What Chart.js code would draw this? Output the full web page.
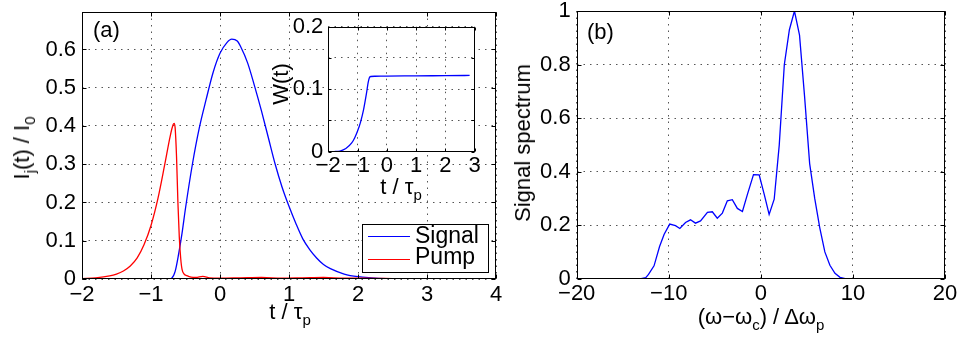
<!DOCTYPE html>
<html>
<head>
<meta charset="utf-8">
<title>Signal and pump pulses</title>
<script src="https://cdn.jsdelivr.net/npm/chart.js@4.4.0/dist/chart.umd.min.js"></script>
<style>
  html, body { margin: 0; padding: 0; background: #fff; }
  #fig {
    position: relative; width: 959px; height: 341px; overflow: hidden; background: #fff;
    font-family: 'Liberation Sans', Arial, Helvetica, sans-serif; color: #000;
  }
  #fig canvas { position: absolute; }
  .lbl { position: absolute; font-size: 22px; line-height: 22px; white-space: nowrap; }
  .lbl sub { font-size: 15px; line-height: 0; position: relative; top: 6px; vertical-align: baseline; }
  .rot { transform: translate(-50%, -50%) rotate(-90deg); }
  .hc { transform: translateX(-50%); }
  #legend {
    position: absolute; left: 362px; top: 224px; width: 125px; height: 47px;
    border: 1px solid #000; background: #fff;
  }
  #legend .key { position: absolute; left: 5px; width: 42px; height: 0; }
  #legend .txt { position: absolute; left: 52px; font-size: 23px; line-height: 23px; }
</style>
</head>
<body>
<div id="fig">
  <canvas id="chart-a" width="512" height="341" style="left:0;top:0"></canvas>
  <canvas id="chart-w" width="220" height="180" style="left:270px;top:6px"></canvas>
  <canvas id="chart-b" width="459" height="341" style="left:500px;top:0"></canvas>

  <div class="lbl" style="left:93px;top:19px">(a)</div>
  <div class="lbl" style="left:587px;top:21px">(b)</div>

  <div class="lbl rot" style="left:22px;top:148px">I<sub>j</sub>(t) / I<sub>0</sub></div>
  <div class="lbl hc" style="left:290px;top:301px">t / &tau;<sub>p</sub></div>

  <div class="lbl rot" style="left:281px;top:84px">W(t)</div>
  <div class="lbl hc" style="left:401px;top:176px">t / &tau;<sub>p</sub></div>

  <div class="lbl rot" style="left:523px;top:143px">Signal spectrum</div>
  <div class="lbl hc" style="left:761px;top:306px">(&omega;&minus;&omega;<sub>c</sub>) / &Delta;&omega;<sub>p</sub></div>

  <div id="legend">
    <div class="key" style="top:11px;border-top:1.4px solid #0000ff"></div>
    <div class="txt" style="top:-1px">Signal</div>
    <div class="key" style="top:34px;border-top:1.4px solid #ff0000"></div>
    <div class="txt" style="top:20px">Pump</div>
  </div>
</div>

<script>
// ============================================================================
// Data
// ============================================================================

// (a) intensities vs t / tau_p
const signalT = [-2, -0.74, -0.7, -0.65, -0.6, -0.55, -0.5, -0.4, -0.3, -0.2, -0.1, 0, 0.1, 0.17, 0.25,
  0.3, 0.4, 0.5, 0.6, 0.7, 0.8, 0.9, 1.0, 1.1, 1.2, 1.3, 1.4, 1.5, 1.6, 1.8, 2.0, 2.2, 2.4, 2.6, 2.83];
const signalI = [0, 0, 0.002, 0.02, 0.065, 0.12, 0.185, 0.3, 0.395, 0.47, 0.54, 0.59, 0.618, 0.627, 0.622,
  0.607, 0.565, 0.505, 0.44, 0.37, 0.3, 0.24, 0.19, 0.145, 0.105, 0.077, 0.055, 0.038, 0.027, 0.013, 0.006,
  0.003, 0.001, 0, 0];

const pumpT = [-2, -1.8, -1.6, -1.5, -1.4, -1.3, -1.2, -1.1, -1.0, -0.9, -0.8, -0.72, -0.68, -0.665,
  -0.65, -0.63, -0.61, -0.59, -0.57, -0.55, -0.52, -0.48, -0.42, -0.35, -0.25, -0.15, 0, 0.3, 0.6, 0.9,
  1.2, 1.5, 1.8, 2.1, 2.5, 2.83];
const pumpI = [0.001, 0.003, 0.008, 0.013, 0.021, 0.034, 0.055, 0.09, 0.14, 0.21, 0.3, 0.375, 0.403, 0.407,
  0.395, 0.32, 0.2, 0.11, 0.055, 0.025, 0.013, 0.009, 0.005, 0.004, 0.007, 0.003, 0.002, 0.003, 0.004, 0.002,
  0.003, 0.004, 0.002, 0.002, 0.001, 0];

// inset: W(t)
const wT = [-2, -1.8, -1.6, -1.4, -1.2, -1.1, -1.0, -0.9, -0.8, -0.7, -0.64, -0.6, -0.55, -0.4, 0, 1, 2, 2.83];
const wVal = [0, 0.0002, 0.001, 0.005, 0.014, 0.022, 0.033, 0.047, 0.066, 0.092, 0.11, 0.118, 0.1203,
  0.1207, 0.121, 0.1213, 0.1217, 0.122];

// (b) signal spectrum vs (w - wc) / dw_p
const specX = [-20, -13, -12.5, -12.2, -11.6, -11.0, -10.5, -9.9, -9.27, -8.8, -8.18, -7.64, -7.1, -6.55,
  -5.8, -5.27, -4.73, -4.18, -3.64, -3.1, -2.55, -2.0, -1.45, -0.8, -0.18, 0.36, 0.9, 1.45, 2.0, 2.55,
  3.1, 3.65, 4.2, 4.75, 5.3, 5.85, 6.4, 6.95, 7.5, 8.05, 8.6, 9.15, 20];
const specY = [0, 0, 0.004, 0.016, 0.048, 0.12, 0.166, 0.204, 0.198, 0.1875, 0.21, 0.22, 0.2075, 0.216,
  0.2475, 0.25, 0.226, 0.245, 0.291, 0.295, 0.2625, 0.251, 0.316, 0.389, 0.3875, 0.316, 0.24, 0.297, 0.5, 0.8,
  0.93, 1.0, 0.91, 0.68, 0.43, 0.3, 0.19, 0.1, 0.05, 0.02, 0.005, 0, 0];

// tick positions
const ticksAx = [-2, -1, 0, 1, 2, 3, 4];
const ticksAy = [0, 0.1, 0.2, 0.3, 0.4, 0.5, 0.6];
const ticksWx = [-2, -1, 0, 1, 2, 3];
const ticksWy = [0, 0.05, 0.1, 0.15, 0.2];
const labelsWy = [0, 0.1, 0.2];
const ticksBx = [-20, -10, 0, 10, 20];
const ticksBy = [0, 0.2, 0.4, 0.6, 0.8, 1];

// ============================================================================
// Helpers
// ============================================================================

const FONT = { family: "'Liberation Sans', Arial, Helvetica, sans-serif", size: 22 };

function fmt(v) {
  if (Math.abs(v) < 1e-9) return '0';
  const s = String(+v.toFixed(2));
  return s.replace('-', '\u2212');
}

function points(xs, ys) {
  return xs.map((x, i) => ({ x: x, y: ys[i] }));
}

// axis with fixed ticks, dotted grid and a fixed size so the plot area lands where it should
function axis(min, max, ticks, size, pad, labelled) {
  return {
    type: 'linear',
    min: min,
    max: max,
    afterBuildTicks: (s) => { s.ticks = ticks.map((v) => ({ value: v })); },
    afterFit: (s) => {
      if (s.isHorizontal()) {
        s.height = size;
        s.paddingLeft = 0;
        s.paddingRight = 0;
      } else {
        s.width = size;
        s.paddingTop = 0;
        s.paddingBottom = 0;
      }
    },
    ticks: {
      font: FONT,
      color: '#000',
      padding: pad,
      autoSkip: false,
      maxRotation: 0,
      callback: (v) => (!labelled || labelled.some((l) => Math.abs(l - v) < 1e-9) ? fmt(v) : '')
    },
    grid: { color: '#555', lineWidth: 1, drawTicks: false },
    border: { display: false, dash: [1.5, 5] }
  };
}

// black box round the plot area with small inward tick marks on all four sides
function framePlugin(tickLen) {
  return {
    id: 'frame',
    afterDatasetsDraw(chart) {
      const { ctx, chartArea: a, scales } = chart;
      const l = Math.round(a.left) + 0.5, r = Math.round(a.right) - 0.5;
      const t = Math.round(a.top) + 0.5, b = Math.round(a.bottom) - 0.5;
      ctx.save();
      ctx.strokeStyle = '#000';
      ctx.lineWidth = 1;
      ctx.beginPath();
      scales.x.ticks.forEach((tk) => {
        const px = Math.round(scales.x.getPixelForValue(tk.value)) + 0.5;
        ctx.moveTo(px, b); ctx.lineTo(px, b - tickLen);
        ctx.moveTo(px, t); ctx.lineTo(px, t + tickLen);
      });
      scales.y.ticks.forEach((tk) => {
        const py = Math.round(scales.y.getPixelForValue(tk.value)) + 0.5;
        ctx.moveTo(l, py); ctx.lineTo(l + tickLen, py);
        ctx.moveTo(r, py); ctx.lineTo(r - tickLen, py);
      });
      ctx.stroke();
      ctx.strokeRect(l, t, r - l, b - t);
      ctx.restore();
    }
  };
}

const whiteArea = {
  id: 'whiteArea',
  beforeDraw(chart) {
    const { ctx, chartArea: a } = chart;
    ctx.save();
    ctx.fillStyle = '#fff';
    ctx.fillRect(a.left, a.top, a.right - a.left, a.bottom - a.top);
    ctx.restore();
  }
};

function baseOptions(padding, scales) {
  return {
    responsive: false,
    animation: false,
    devicePixelRatio: 1,
    events: [],
    layout: { padding: padding },
    plugins: { legend: { display: false }, tooltip: { enabled: false } },
    elements: { point: { radius: 0 } },
    scales: scales
  };
}

function lineSet(data, color, smooth) {
  return {
    data: data,
    borderColor: color,
    borderWidth: 1.3,
    pointRadius: 0,
    fill: false,
    tension: smooth ? 0.4 : 0,
    cubicInterpolationMode: smooth ? 'monotone' : 'default'
  };
}

// ============================================================================
// Charts
// ============================================================================

// (a) plot area 82..496 x 12..279
new Chart(document.getElementById('chart-a'), {
  type: 'line',
  data: {
    datasets: [
      lineSet(points(pumpT, pumpI), '#ff0000', true),
      lineSet(points(signalT, signalI), '#0000ff', true)
    ]
  },
  options: baseOptions({ left: 0, top: 12, right: 16, bottom: 0 }, {
    x: axis(-2, 4, ticksAx, 62, 3),
    y: axis(0, 0.698, ticksAy, 82, 6)
  }),
  plugins: [framePlugin(4)]
});

// inset W(t), plot area 328..475 x 27..152
new Chart(document.getElementById('chart-w'), {
  type: 'line',
  data: { datasets: [lineSet(points(wT, wVal), '#0000ff', true)] },
  options: baseOptions({ left: 0, top: 20.7, right: 15.4, bottom: 0 }, {
    x: axis(-2, 3, ticksWx, 34.3, 1),
    y: axis(0, 0.2, ticksWy, 58.3, 5, labelsWy)
  }),
  plugins: [whiteArea, framePlugin(3)]
});

// (b) plot area 577..945 x 11..279
new Chart(document.getElementById('chart-b'), {
  type: 'line',
  data: { datasets: [lineSet(points(specX, specY), '#0000ff', false)] },
  options: baseOptions({ left: 0, top: 11, right: 14, bottom: 0 }, {
    x: axis(-20, 20, ticksBx, 62.3, 2.5),
    y: axis(0, 1, ticksBy, 76.7, 6)
  }),
  plugins: [framePlugin(4)]
});
</script>
</body>
</html>
